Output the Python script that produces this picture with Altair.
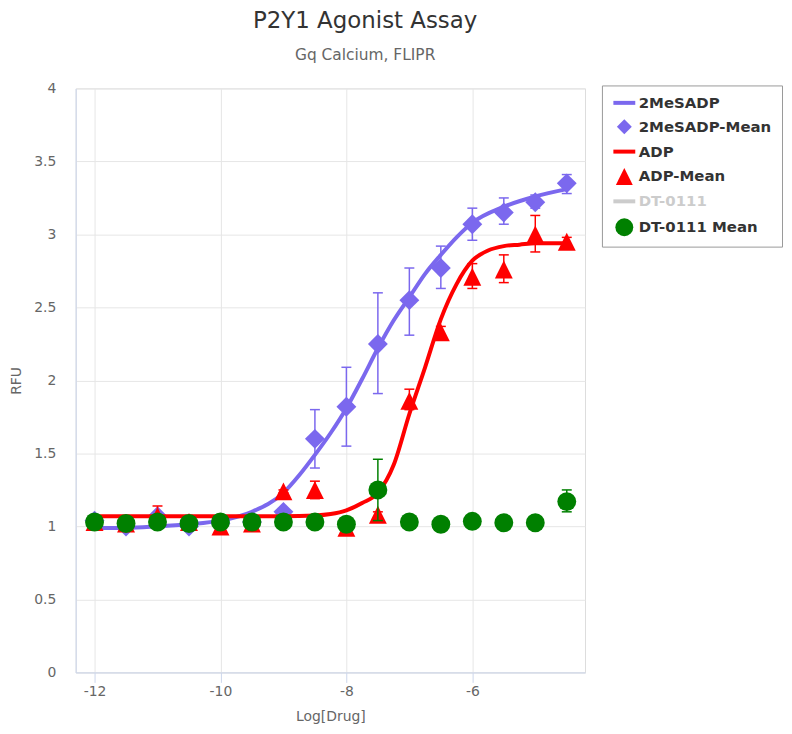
import altair as alt
import pandas as pd

# ---- data ----
x_means = [-12, -11.5, -11, -10.5, -10, -9.5, -9, -8.5, -8, -7.5, -7, -6.5, -6, -5.5, -5, -4.5]

mes_mean = [1.04, 1.00, 1.07, 1.00, 1.02, 1.03, 1.10, 1.60, 1.82, 2.25, 2.55, 2.77, 3.07, 3.15, 3.22, 3.35]
mes_low = [1.02, 0.98, 1.05, 0.98, 1.00, 1.01, 1.09, 1.40, 1.55, 1.91, 2.31, 2.63, 2.96, 3.07, 3.18, 3.28]
mes_high = [1.06, 1.02, 1.09, 1.02, 1.04, 1.05, 1.11, 1.80, 2.09, 2.60, 2.77, 2.92, 3.18, 3.25, 3.27, 3.41]

adp_mean = [1.03, 1.02, 1.07, 1.03, 1.00, 1.02, 1.24, 1.25, 0.99, 1.08, 1.86, 2.33, 2.71, 2.76, 3.00, 2.95]
adp_low = [1.01, 1.00, 1.00, 1.01, 0.99, 1.01, 1.23, 1.19, 0.98, 1.06, 1.80, 2.29, 2.63, 2.67, 2.88, 2.93]
adp_high = [1.05, 1.04, 1.14, 1.05, 1.01, 1.03, 1.25, 1.31, 1.00, 1.10, 1.94, 2.37, 2.80, 2.86, 3.13, 2.98]

dt_mean = [1.03, 1.02, 1.03, 1.02, 1.03, 1.03, 1.03, 1.03, 1.015, 1.25, 1.03, 1.015, 1.035, 1.025, 1.025, 1.17]
dt_low = [1.02, 1.01, 1.02, 1.01, 1.02, 1.02, 1.02, 1.02, 1.005, 1.04, 1.02, 1.005, 1.025, 1.015, 1.015, 1.10]
dt_high = [1.04, 1.03, 1.04, 1.03, 1.04, 1.04, 1.04, 1.04, 1.025, 1.46, 1.04, 1.025, 1.045, 1.035, 1.035, 1.25]

mes_curve_x = [-12, -11.5, -11, -10.5, -10, -9.5, -9, -8.75, -8.5, -8.25, -8, -7.75, -7.5, -7.25,
               -7, -6.75, -6.5, -6.25, -6, -5.5, -5, -4.5]
mes_curve_y = [0.99, 0.99, 1.00, 1.015, 1.04, 1.10, 1.23, 1.35, 1.49, 1.64, 1.81, 2.01, 2.22, 2.41,
               2.57, 2.73, 2.86, 2.98, 3.08, 3.19, 3.26, 3.31]

adp_curve_x = [-12, -11, -10, -9, -8.5, -8.25, -8, -7.75, -7.5, -7.25, -7, -6.75, -6.5, -6.25,
               -6, -5.75, -5.5, -5.25, -5, -4.5]
adp_curve_y = [1.07, 1.07, 1.07, 1.07, 1.075, 1.085, 1.11, 1.16, 1.23, 1.42, 1.77, 2.09, 2.42, 2.66,
               2.82, 2.89, 2.92, 2.93, 2.94, 2.94]

legend_names = ["2MeSADP", "2MeSADP-Mean", "ADP", "ADP-Mean", "DT-0111", "DT-0111 Mean"]
legend_colors = ["#7B68EE", "#7B68EE", "#FF0000", "#FF0000", "#CCCCCC", "#008000"]
TRI = "M0,-1L1,1L-1,1Z"
legend_shapes = ["stroke", "diamond", "stroke", TRI, "stroke", "circle"]

x_ticks = [-12, -10, -8, -6]
y_ticks = [0, 0.5, 1, 1.5, 2, 2.5, 3, 3.5, 4]

FONT = "DejaVu Sans"

# ---- tables ----
def mean_df(name, mean, low, high):
    return pd.DataFrame({"x": x_means, "y": mean, "low": low, "high": high, "series": name})

mes_df = mean_df("2MeSADP-Mean", mes_mean, mes_low, mes_high)
adp_df = mean_df("ADP-Mean", adp_mean, adp_low, adp_high)
dt_df = mean_df("DT-0111 Mean", dt_mean, dt_low, dt_high)
mes_curve = pd.DataFrame({"x": mes_curve_x, "y": mes_curve_y, "series": "2MeSADP"})
adp_curve = pd.DataFrame({"x": adp_curve_x, "y": adp_curve_y, "series": "ADP"})

x_scale = alt.Scale(domain=[-12.3, -4.21], nice=False, zero=False)
y_scale = alt.Scale(domain=[0, 4], nice=False, zero=False)
color_scale = alt.Scale(domain=legend_names, range=legend_colors)
shape_scale = alt.Scale(domain=legend_names, range=legend_shapes)

x_axis = alt.Axis(
    values=x_ticks, title="Log[Drug]", grid=True, gridColor="#e6e6e6", gridWidth=1,
    domainColor="#ccd6eb", tickColor="#ccd6eb", tickSize=10, labelPadding=2,
    labelFontSize=14, labelColor="#666666", labelFont=FONT, labelExpr="'' + datum.value",
    titleFontSize=14, titleColor="#666666", titleFont=FONT, titleFontWeight="normal",
    titleY=44, titleBaseline="middle",
)
y_axis = alt.Axis(
    values=y_ticks, title="RFU", grid=True, gridColor="#e6e6e6", gridWidth=1,
    domainColor="#ccd6eb", ticks=False, tickSize=0, labelPadding=20,
    labelFontSize=14, labelColor="#666666", labelFont=FONT, labelExpr="'' + datum.value",
    titleFontSize=14, titleColor="#666666", titleFont=FONT, titleFontWeight="normal",
    titleX=-59, titleY=293.5, titleBaseline="middle", titleAngle=270,
)

is_line = "(datum.value == '2MeSADP' || datum.value == 'ADP' || datum.value == 'DT-0111')"
legend = alt.Legend(
    title=None, orient="none", legendX=529, legendY=-3,
    strokeColor="#999999", fillColor="#ffffff", padding=10,
    symbolSize=alt.ExprRef(expr="datum.value == '2MeSADP-Mean' ? 225 : datum.value == 'ADP-Mean' ? 289 : datum.value == 'DT-0111 Mean' ? 324 : 484"),
    symbolStrokeWidth=alt.ExprRef(expr=is_line + " ? 4 : 0"),
    symbolFillColor=alt.ExprRef(expr="scale('color', datum.value)"),
    symbolStrokeColor=alt.ExprRef(expr="scale('color', datum.value)"),
    symbolOpacity=1, symbolOffset=5,
    labelFont=FONT, labelFontSize=15, labelFontWeight="bold",
    labelColor=alt.ExprRef(expr="datum.value == 'DT-0111' ? '#cccccc' : '#333333'"),
    labelOffset=7, rowPadding=8,
)

X = alt.X("x:Q", scale=x_scale, axis=x_axis)
Y = alt.Y("y:Q", scale=y_scale, axis=y_axis)
COLOR = alt.Color("series:N", scale=color_scale, legend=legend)
SHAPE = alt.Shape("series:N", scale=shape_scale, legend=legend)


def curve_layer(df):
    return alt.Chart(df).mark_line(strokeWidth=4, interpolate="monotone").encode(x=X, y=Y, color=COLOR)


def error_layers(df, color):
    rule = alt.Chart(df).mark_rule(strokeWidth=1.5, color=color).encode(
        x=alt.X("x:Q", scale=x_scale), y=alt.Y("low:Q", scale=y_scale), y2="high:Q")
    cap_lo = alt.Chart(df).mark_tick(orient="horizontal", size=10, thickness=1.5, color=color, opacity=1).encode(
        x=alt.X("x:Q", scale=x_scale), y=alt.Y("low:Q", scale=y_scale))
    cap_hi = alt.Chart(df).mark_tick(orient="horizontal", size=10, thickness=1.5, color=color, opacity=1).encode(
        x=alt.X("x:Q", scale=x_scale), y=alt.Y("high:Q", scale=y_scale))
    return [rule, cap_lo, cap_hi]


def point_layer(df, size):
    return alt.Chart(df).mark_point(filled=True, opacity=1, strokeWidth=0).encode(
        x=X, y=Y, color=COLOR, shape=SHAPE, size=alt.value(size))


layers = (
    [curve_layer(mes_curve)]
    + error_layers(mes_df, legend_colors[1])
    + [point_layer(mes_df, 400)]
    + [curve_layer(adp_curve)]
    + error_layers(adp_df, legend_colors[3])
    + [point_layer(adp_df, 324)]
    + error_layers(dt_df, legend_colors[5])
    + [point_layer(dt_df, 361)]
)

chart = alt.layer(*layers).properties(
    width=512,
    height=587,
    padding={"left": 68, "top": 79, "right": 200, "bottom": 52},
    autosize=alt.AutoSizeParams(type="none"),
    title=alt.TitleParams(
        text="P2Y1 Agonist Assay", subtitle="Gq Calcium, FLIPR",
        font=FONT, fontSize=23, fontWeight="normal", color="#333333",
        subtitleFont=FONT, subtitleFontSize=15.5, subtitleColor="#666666",
        anchor="middle", dx=35, offset=18, subtitlePadding=15,
    ),
).configure_view(stroke="transparent").configure(font=FONT)

chart.save("out.html", embed_options={"renderer": "svg", "actions": False})
